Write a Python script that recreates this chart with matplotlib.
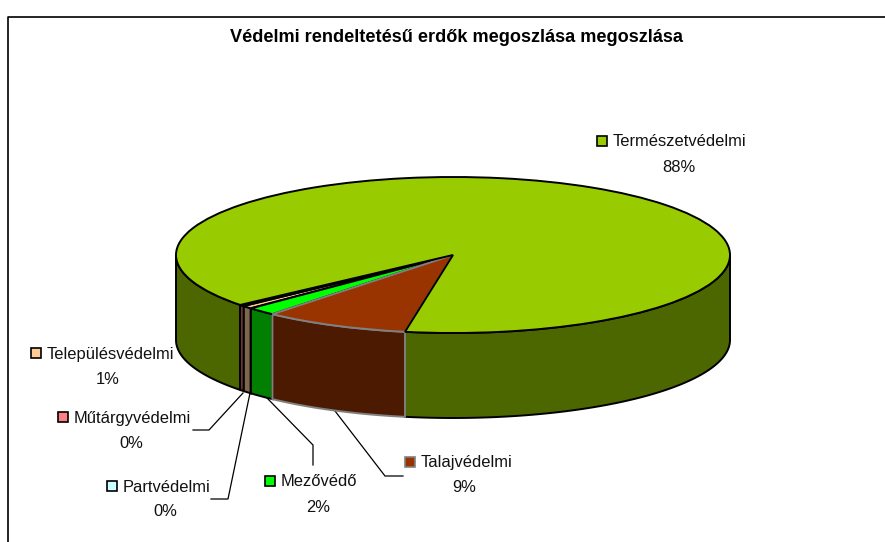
import numpy as np
import matplotlib
matplotlib.use("Agg")
import matplotlib.pyplot as plt
from matplotlib.patches import Rectangle

plt.rcParams['font.family'] = ['Liberation Sans', 'DejaVu Sans']

TITLE = "Védelmi rendeltetésű erdők megoszlása megoszlása"
categories = ["Természetvédelmi", "Talajvédelmi", "Mezővédő", "Partvédelmi", "Településvédelmi", "Műtárgyvédelmi"]
values = [88.49, 8.5, 1.7, 0.03, 0.6, 0.3]
shown = ["88%", "9%", "2%", "0%", "1%", "0%"]
top_colors = ["#99CC00", "#993300", "#00FF00", "#CCFFFF", "#FFCC99", "#FF8080"]
wall_colors = ["#4C6600", "#4C1A00", "#007F00", "#667F7F", "#7F664C", "#7F4040"]
edge_colors = ["#000000", "#808080", "#000000", "#000000", "#000000", "#000000"]

W, H = 885, 542
fig = plt.figure(figsize=(W / 100, H / 100), dpi=100)

# overlay in pixel coordinates
ov = fig.add_axes([0, 0, 1, 1])
ov.set_xlim(0, W)
ov.set_ylim(H, 0)
ov.axis("off")

# frame (runs past the right and bottom crop)
ov.plot([8, 8, W + 5], [H + 5, 17, 17], color="#000000", lw=1.2, solid_capstyle="butt")

# pie geometry (pixels)
cx_left, cx_right, top_y, bot_y, depth = 176, 730, 177, 333, 85
start_from_top = 230.2
b = (bot_y - top_y) / 2
dunit = depth / b

ax = fig.add_axes([cx_left / W, 1 - (bot_y + depth) / H,
                   (cx_right - cx_left) / W, (bot_y - top_y + depth) / H])

frac = np.array(values) / np.sum(values) * 360
starts = start_from_top + np.concatenate([[0], np.cumsum(frac)[:-1]])
ends = starts + frac

def wall(t1, t2, color, edge, z):
    # visible front part: clockwise angle from top in [90, 270] (mod 360)
    for lo, hi in [(90, 270), (450, 630)]:
        a, c = max(t1, lo), min(t2, hi)
        if a < c:
            t = np.radians(np.linspace(a, c, 80))
            xs, ys = np.sin(t), np.cos(t)
            ax.fill(np.r_[xs, xs[::-1]], np.r_[ys, ys[::-1] - dunit],
                    facecolor=color, edgecolor=edge, lw=1.4, zorder=z, joinstyle="miter")

order = [0, 3, 4, 5, 2, 1]
for k, i in enumerate(order):
    wall(starts[i], ends[i], wall_colors[i], edge_colors[i], 2 + k * 0.01)

wedges, _ = ax.pie(values, startangle=90 - start_from_top, counterclock=False,
                   colors=top_colors, radius=1, normalize=True)
for k, w in zip(edge_colors, wedges):
    w.set_edgecolor(k)
    w.set_linewidth(1.4)
    w.set_zorder(3)
wedges[2].set_zorder(3.1)
wedges[1].set_zorder(3.2)
wedges[0].set_zorder(3.3)
ax.set_aspect("auto")
ax.set_xlim(-1, 1)
ax.set_ylim(-1 - dunit, 1)
ax.axis("off")
for a in ax.patches:
    a.set_clip_on(False)

# title
ov.text(456, 37, TITLE, ha="center", va="center", fontsize=13.1, fontweight="bold", color="#000000")

# labels: key left, key top, text left, percent centre x, text centre y, percent centre y
label_pos = {
    "Természetvédelmi": (597, 136, 613, 679, 142, 167),
    "Talajvédelmi": (405, 457, 421, 464, 463, 488),
    "Mezővédő": (265, 476, 281, 318, 482, 507),
    "Partvédelmi": (107, 481, 123, 165, 487, 511),
    "Településvédelmi": (31, 348, 47, 108, 354, 379),
    "Műtárgyvédelmi": (58, 412, 74, 131, 418, 443),
}
for name, pct, col, ec in zip(categories, shown, top_colors, edge_colors):
    kx, ky, tx, px, ty, py = label_pos[name]
    ov.add_patch(Rectangle((kx, ky), 10, 10, facecolor=col, edgecolor=ec, lw=1.2, zorder=6))
    ov.text(tx, ty, name, ha="left", va="center", fontsize=11.9, color="#111111", zorder=6)
    ov.text(px, py, pct, ha="center", va="center", fontsize=11.9, color="#111111", zorder=6)

# leader lines
leaders = [
    ([335, 385, 403], [411, 476, 476]),
    ([267, 313, 313], [398, 445, 465]),
    ([250, 228, 211], [393, 499, 499]),
    ([243, 209, 193], [393, 430, 430]),
]
for xs, ys in leaders:
    ov.plot(xs, ys, color="#000000", lw=0.9, zorder=5, solid_joinstyle="miter")

fig.savefig("out.png", dpi=100, facecolor="white")
